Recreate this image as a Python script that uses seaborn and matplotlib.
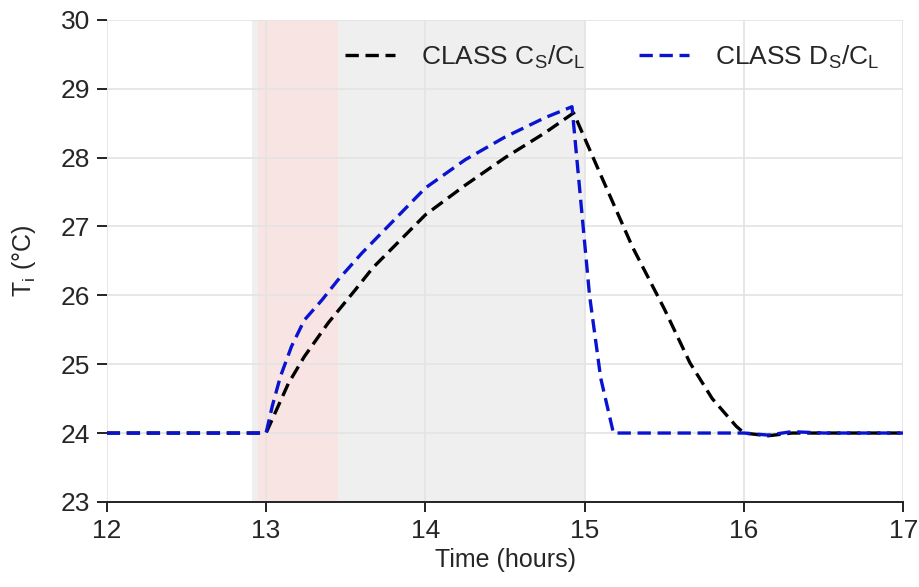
import numpy as np
import pandas as pd
import matplotlib
matplotlib.use("Agg")
import matplotlib.pyplot as plt
import seaborn as sns

# Data
time_c = [12.0, 12.5, 13.0, 13.14, 13.24, 13.39, 13.56, 13.67, 14.0, 14.25, 14.5, 14.75, 14.93,
          15.1, 15.3, 15.5, 15.66, 15.8, 15.95, 16.0, 16.15, 16.3, 16.5, 17.0]
temp_c = [24.0, 24.0, 24.0, 24.72, 25.11, 25.6, 26.08, 26.4, 27.17, 27.6, 28.0, 28.36, 28.65,
          27.75, 26.7, 25.8, 25.02, 24.5, 24.1, 24.0, 23.96, 24.0, 24.0, 24.0]
time_d = [12.0, 12.5, 13.0, 13.04, 13.09, 13.16, 13.24, 13.35, 13.45, 13.6, 14.0, 14.25, 14.5,
          14.75, 14.92, 15.03, 15.1, 15.18, 15.5, 16.0, 16.15, 16.3, 16.5, 17.0]
temp_d = [24.0, 24.0, 24.0, 24.4, 24.82, 25.26, 25.64, 25.93, 26.22, 26.61, 27.56, 27.97, 28.3,
          28.58, 28.74, 26.0, 24.8, 24.0, 24.0, 24.0, 23.97, 24.02, 24.0, 24.0]
labels = ["CLASS C$_\\mathregular{S}$/C$_\\mathregular{L}$",
          "CLASS D$_\\mathregular{S}$/C$_\\mathregular{L}$"]
x_ticks = [12, 13, 14, 15, 16, 17]
y_ticks = [23, 24, 25, 26, 27, 28, 29, 30]
grey_span = (12.91, 15.0)
pink_span = (12.95, 13.45)

df = pd.concat([
    pd.DataFrame({"time": time_c, "temp": temp_c, "series": labels[0]}),
    pd.DataFrame({"time": time_d, "temp": temp_d, "series": labels[1]}),
])

sns.set_theme(style="ticks")
plt.rcParams['font.family'] = ['Liberation Sans', 'DejaVu Sans']
plt.rcParams['mathtext.fontset'] = 'custom'
plt.rcParams['mathtext.rm'] = 'Liberation Sans'

fig, ax = plt.subplots(figsize=(9.2, 5.87), dpi=100)
fig.subplots_adjust(left=0.116, right=0.982, top=0.966, bottom=0.145)

ax.axvspan(*grey_span, color="#efefef", zorder=0, lw=0)
ax.axvspan(*pink_span, color="#f8e4e2", zorder=0.5, lw=0)

sns.lineplot(data=df, x="time", y="temp", hue="series", sort=False,
             palette={labels[0]: "black", labels[1]: "#0a14d0"},
             linewidth=2.4, ax=ax, estimator=None)
dash = (0, (4, 2))
for line in ax.get_lines():
    line.set_linestyle(dash)

ax.set_xlim(12, 17)
ax.set_ylim(23, 30)
ax.set_xticks(x_ticks)
ax.set_yticks(y_ticks)
ax.grid(True, color="#e3e3e3", linewidth=1.2, zorder=0.8)
ax.set_axisbelow(True)
ax.tick_params(axis="both", labelsize=19, length=7, width=1.4, color="#222222", pad=5)
ax.set_xlabel("Time (hours)", fontsize=18, labelpad=4)
ax.set_ylabel("T$_\\mathregular{i}$ (°C)", fontsize=18, labelpad=16)
sns.despine(ax=ax, left=True)
ax.spines["bottom"].set_linewidth(1.4)
ax.spines["bottom"].set_color("#222222")

handles, lbls = ax.get_legend_handles_labels()
for h in handles:
    h.set_linestyle(dash)
ax.legend(handles, lbls, ncol=2, frameon=False, fontsize=19,
          loc="upper right", bbox_to_anchor=(1.0, 1.0),
          handlelength=1.9, columnspacing=2.0, handletextpad=1.0)

fig.savefig("out.png", dpi=100)
